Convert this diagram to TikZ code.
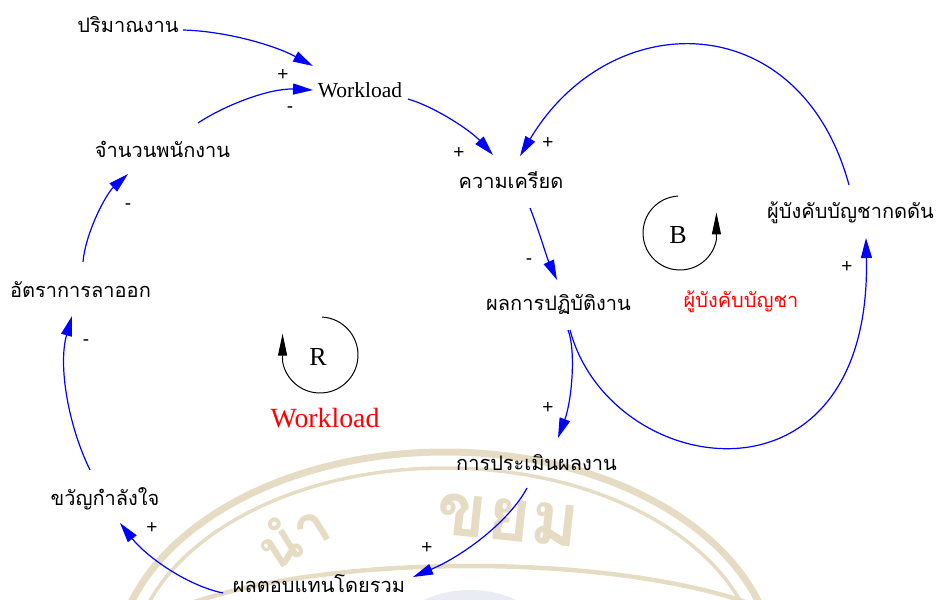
\documentclass[tikz,border=0pt]{standalone}
\usepackage{fontspec}
\setmainfont{Liberation Serif}
\newfontfamily\thai[Script=Thai]{Loma}
\newfontfamily\signfont{Liberation Sans}
\usetikzlibrary{arrows.meta,calc}
\definecolor{linkblue}{RGB}{0,0,255}
\definecolor{seal}{RGB}{230,220,196}
\definecolor{sealblue}{RGB}{212,220,232}
\begin{document}
\begin{tikzpicture}[x=1pt,y=-1pt,
  var/.style={inner sep=0pt, anchor=base, font=\thai\fontsize{20}{24}\selectfont},
  loopname/.style={inner sep=0pt, anchor=base, font=\fontsize{26}{28}\selectfont},
  link/.style={draw=linkblue, line width=1.2pt, -{Triangle[length=20pt,width=11pt]}},
  pol/.style={inner sep=0pt, font=\signfont\fontsize{19}{19}\selectfont},
  loopline/.style={draw=black, line width=1pt},
  looptip/.style={-{Triangle[length=22pt,width=9pt]}},
  sealtext/.style={seal, inner sep=0pt, font=\thai\bfseries\fontsize{#1}{#1}\selectfont},
]
\useasboundingbox (0,0) rectangle (941,599);

% faint seal in the background
\begin{scope}
  \clip (0,0) rectangle (941,599);
  \fill[sealblue, opacity=0.5] (470,660) ellipse [x radius=90, y radius=70];
  \draw[seal, line width=7pt] (445,670) ellipse [x radius=330, y radius=218];
  \draw[seal, line width=3.5pt] (445,670) ellipse [x radius=314, y radius=202];
  \draw[seal, line width=4.5pt] (470,660) ellipse [x radius=350, y radius=94];
  \node[sealtext=58, rotate=32] (sealA) at (292,534) {นำ};
  \node[sealtext=74, rotate=-6] (sealB) at (508,520) {ขยม};
\end{scope}

% variables
\node[var] (pw) at (128,33)    {ปริมาณงาน};
\node[inner sep=0pt, anchor=base, font=\fontsize{21.5}{24}\selectfont] (wl) at (360,98) {Workload};
\node[var] (jn) at (162.5,157) {จำนวนพนักงาน};
\node[var] (kk) at (511,188)   {ความเครียด};
\node[var] (at) at (80.5,297)  {อัตราการลาออก};
\node[var] (pp) at (558.5,310) {ผลการปฏิบัติงาน};
\node[var] (pb) at (850.5,218) {ผู้บังคับบัญชากดดัน};
\node[var] (pe) at (536.5,470) {การประเมินผลงาน};
\node[var] (pt) at (319,592)   {ผลตอบแทนโดยรวม};
\node[var] (kv) at (105,505)   {ขวัญกำลังใจ};

% loop names
\node[var, red] (bname) at (741,307) {ผู้บังคับบัญชา};
\node[inner sep=0pt, anchor=base, red, font=\fontsize{27.8}{30}\selectfont] (rname) at (325,427) {Workload};

% loop markers
\node[loopname] (B) at (678,243) {B};
\draw[loopline, looptip] (680,233) ++(267:37) arc[start angle=267, end angle=10, radius=37] -- ++(0,-27);
\node[loopname] (R) at (318,365) {R};
\draw[loopline, looptip] (320,355) ++(273:38) arc[start angle=273, end angle=530, radius=38] -- ++(0,-28);

% causal links
\draw[link] ($(pw.base)+(55,-3)$) .. controls (223,31) and (272,44) .. ($(wl.base)+(-47,-32)$);
\draw[link] ($(jn.base)+(35.5,-34)$) .. controls (225,105) and (270,88) .. ($(wl.base)+(-47,-8)$);
\draw[link] ($(wl.base)+(48,1)$) .. controls (435,107) and (470,130) .. ($(kk.base)+(-18,-33)$);
\draw[link] ($(pb.base)+(-1.5,-33)$) .. controls (800,5) and (610,5) .. ($(kk.base)+(9,-32)$);
\draw[link] ($(kk.base)+(19,20)$) .. controls (537,225) and (547,258) .. ($(pp.base)+(-1.5,-30)$);
\draw[link] ($(pp.base)+(9.5,20)$) .. controls (576,350) and (572,400) .. ($(pe.base)+(21.5,-32)$);
\draw[link] ($(pp.base)+(11.5,20)$) .. controls (610,480) and (872,520) .. ($(pb.base)+(15.5,20)$);
\draw[link] ($(pe.base)+(-9.5,18)$) .. controls (510,520) and (465,555) .. ($(pt.base)+(94,-15)$);
\draw[link] ($(pt.base)+(-96,1)$) .. controls (185,585) and (145,555) .. ($(kv.base)+(15,18)$);
\draw[link] ($(kv.base)+(-15,-35)$) .. controls (68,425) and (58,365) .. ($(at.base)+(-8.5,19)$);
\draw[link] ($(at.base)+(2.5,-35)$) .. controls (85,235) and (105,195) .. ($(jn.base)+(-34.5,17)$);

% link polarities
\node[pol] (s1)  at (283,75)  {+};
\node[pol] (s2)  at (290,110) {-};
\node[pol] (s3)  at (459,153) {+};
\node[pol] (s4)  at (548,143) {+};
\node[pol] (s5)  at (529,262) {-};
\node[pol] (s6)  at (548,408) {+};
\node[pol] (s7)  at (847,267) {+};
\node[pol] (s8)  at (427,548) {+};
\node[pol] (s9)  at (152,528) {+};
\node[pol] (s10) at (86,343)  {-};
\node[pol] (s11) at (128,207) {-};
\end{tikzpicture}
\end{document}
